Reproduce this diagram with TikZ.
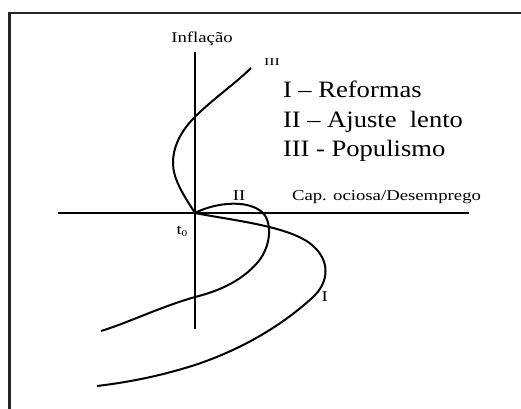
\documentclass[tikz,border=0pt]{standalone}
\usepackage{fontspec}
\setmainfont{Liberation Serif}
\newcommand{\smalltxt}[1]{\scalebox{1.25}[1]{\fontsize{15}{15}\selectfont #1}}
\newcommand{\bigtxt}[1]{\scalebox{1.13}[1]{\fontsize{23.5}{23.5}\selectfont #1}}
\begin{document}
\begin{tikzpicture}[x=1pt,y=-1pt,
  axis/.style={line width=2pt,black},
  curve/.style={line width=2pt,black,line join=round},
  frame/.style={line width=2.2pt,black!85},
  lbl/.style={inner sep=0pt,outer sep=0pt}]
\useasboundingbox (0,0) rectangle (521,408);
\fill[white] (0,0) rectangle (521,408);
% frame
\draw[frame] (9.5,410) -- (9.5,13) -- (523,13);
% axes
\coordinate (O) at (195,213);
\coordinate (vt) at (195,52);
\coordinate (vb) at (195,329);
\coordinate (hl) at (58,213);
\coordinate (hr) at (469,213);
\draw[axis] (vt) -- (vb);
\draw[axis] (hl) -- (hr);
% curve III
\draw[curve] (O) .. controls (182,193) and (173,178) .. (173,163)
  .. controls (173,140) and (188,123) .. (200,112)
  .. controls (217,96) and (237,82) .. (251,68);
% curve II
\draw[curve] (O) .. controls (212,204) and (245,198) .. (262,212)
  .. controls (272,221) and (272,245) .. (258,262)
  .. controls (240,283) and (215,292) .. (195,297)
  .. controls (160,307) and (130,322) .. (101,331);
% curve I
\draw[curve] (O) .. controls (230,220) and (290,226) .. (312,245)
  .. controls (330,260) and (330,282) .. (312,298)
  .. controls (280,327) and (240,350) .. (195,365)
  .. controls (160,376) and (130,382) .. (97,386);
% labels
\node[lbl,anchor=base] (infl) at (202,42.5) {\smalltxt{Inflação}};
\node[lbl,anchor=base west] (cap) at (292,200.5) {\smalltxt{Cap. ociosa/Desemprego}};
\node[lbl,anchor=base] (lII) at (239,200) {\smalltxt{II}};
\node[lbl,anchor=base] (lI) at (324.7,301.5) {\smalltxt{I}};
\node[lbl,anchor=base] (lIII) at (272,65) {\scalebox{1.5}[1]{\fontsize{10.5}{10.5}\selectfont III}};
\node[lbl,anchor=base west] (t0) at (176.5,234) {\smalltxt{t\raisebox{-0.3ex}{\fontsize{9}{9}\selectfont 0}}};
\node[lbl,anchor=base west] (leg1) at (283,97.5) {\bigtxt{I – Reformas}};
\node[lbl,anchor=base west] (leg2) at (283,127) {\bigtxt{II – Ajuste\ \ lento}};
\node[lbl,anchor=base west] (leg3) at (283,156.5) {\bigtxt{III - Populismo}};
\end{tikzpicture}
\end{document}
